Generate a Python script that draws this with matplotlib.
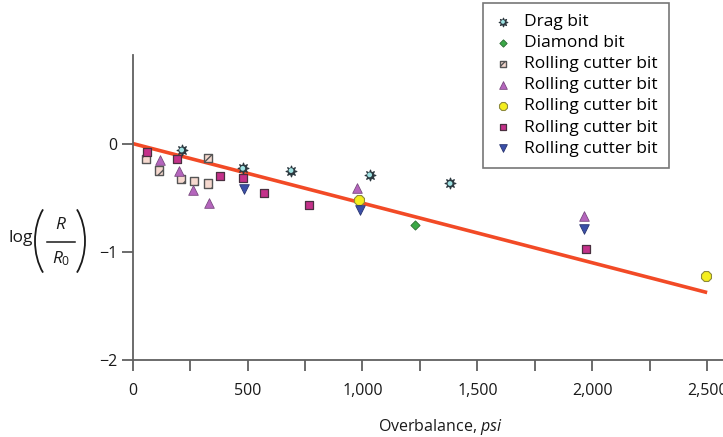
import matplotlib
matplotlib.use("Agg")
import matplotlib.pyplot as plt
from matplotlib.lines import Line2D
from matplotlib.patches import Arc
from matplotlib.transforms import IdentityTransform
from matplotlib.legend_handler import HandlerTuple
from matplotlib.ticker import FixedLocator, FuncFormatter

plt.rcParams['font.family'] = ['Open Sans', 'DejaVu Sans']
plt.rcParams['mathtext.fontset'] = 'custom'
plt.rcParams['mathtext.rm'] = 'Open Sans'
plt.rcParams['mathtext.it'] = 'Open Sans:italic'
plt.rcParams['hatch.color'] = '#e0583c'
plt.rcParams['hatch.linewidth'] = 1.0

# ---- data ----
drag_x = [213, 479, 689, 1031, 1381]
drag_y = [-0.06, -0.23, -0.25, -0.29, -0.37]

diamond_x = [1230]
diamond_y = [-0.75]

rc1_x = [59, 116, 210, 267, 329, 329]
rc1_y = [-0.145, -0.25, -0.33, -0.35, -0.13, -0.37]

rc2_x = [119, 203, 261, 333, 977, 1965]
rc2_y = [-0.155, -0.25, -0.43, -0.55, -0.41, -0.67]

rc3_x = [983, 2496]
rc3_y = [-0.52, -1.23]

rc4_x = [64, 191, 380, 479, 573, 769, 1971]
rc4_y = [-0.08, -0.145, -0.30, -0.315, -0.46, -0.565, -0.98]

rc5_x = [484, 990, 1965]
rc5_y = [-0.42, -0.62, -0.79]

fit_x = [0, 2500]
fit_y = [0.0, -1.38]

legend_labels = ["Drag bit", "Diamond bit", "Rolling cutter bit", "Rolling cutter bit",
                 "Rolling cutter bit", "Rolling cutter bit", "Rolling cutter bit"]

xtick_major = [0, 500, 1000, 1500, 2000, 2500]
xtick_all = [0, 250, 500, 750, 1000, 1250, 1500, 1750, 2000, 2250, 2500]
ytick_vals = [0, -1, -2]

W, H = 723, 437


def fx(px):
    return px / W


def fy(py):
    return 1 - py / H


# ---- figure ----
fig = plt.figure(figsize=(7.23, 4.37), dpi=100)
ax = fig.add_axes([fx(132.7), fy(359.5), (W - 132.7) / W, (359.5 - 55) / H])

ax.plot(fit_x, fit_y, color='#f24a26', lw=2.6, zorder=2, solid_capstyle='butt')

h_drag_o = ax.scatter(drag_x, drag_y, marker=(8, 1, 0), s=62, c='#2c3940', edgecolors='#2c3940',
                      linewidths=0.8, zorder=4)
h_drag_i = ax.scatter(drag_x, drag_y, marker='o', s=12, c='#9fe3e3', edgecolors='none', zorder=5)
h_dia = ax.scatter(diamond_x, diamond_y, marker='D', s=22, c='#3aa846', edgecolors='#2d6b33',
                   linewidths=0.6, zorder=4)
h1 = ax.scatter(rc1_x, rc1_y, marker='s', s=34, c='#f6d9cf', edgecolors='#555555',
                linewidths=1.0, hatch='//', zorder=4)
h2 = ax.scatter(rc2_x, rc2_y, marker='^', s=48, c='#b565bd', edgecolors='#7a4a80',
                linewidths=0.6, zorder=4)
h3 = ax.scatter(rc3_x, rc3_y, marker='8', s=60, c='#f4ee1e', edgecolors='#8d8a3a',
                linewidths=0.8, zorder=4)
h4 = ax.scatter(rc4_x, rc4_y, marker='s', s=32, c='#c4318a', edgecolors='#4a3040',
                linewidths=0.9, zorder=4)
h5 = ax.scatter(rc5_x, rc5_y, marker='v', s=48, c='#3a4fa8', edgecolors='#2a3570',
                linewidths=0.6, zorder=4)

ax.set_xlim(0, 2569)
ax.set_ylim(-2, 0.82)

for s in ['top', 'right']:
    ax.spines[s].set_visible(False)
for s in ['left', 'bottom']:
    ax.spines[s].set_color('#606060')
    ax.spines[s].set_linewidth(1.3)

ax.xaxis.set_major_locator(FixedLocator(xtick_all))
ax.xaxis.set_major_formatter(FuncFormatter(
    lambda v, p: (f"{int(v):,}" if int(v) in xtick_major else "")))
ax.set_yticks(ytick_vals)
ax.set_yticklabels(["0", "\u22121", "\u22122"])
ax.tick_params(axis='both', direction='out', length=8, width=1.3, color='#606060',
               labelsize=11.5, labelcolor='#1a1a1a')
ax.tick_params(axis='x', pad=9)
ax.tick_params(axis='y', pad=3)

ax.set_xlabel("Overbalance, $\\it{psi}$", fontsize=11.5, color='#1a1a1a')
ax.xaxis.set_label_coords((440 - 132.7) / (W - 132.7), -0.19)

# y-axis label: log( R / R0 ) with tall thin parentheses
tc = '#1a1a1a'
fig.text(fx(8), fy(238), "log", fontsize=12.5, ha='left', va='center', color=tc)
fig.add_artist(Arc((66, H - 241), 62, 94, theta1=126, theta2=234,
                   transform=IdentityTransform(), color=tc, lw=1.3))
fig.add_artist(Arc((54, H - 241), 62, 94, theta1=-54, theta2=54,
                   transform=IdentityTransform(), color=tc, lw=1.3))
fig.text(fx(61), fy(225), "$\\it{R}$", fontsize=12.5, ha='center', va='center', color=tc)
fig.text(fx(61), fy(259), "$\\it{R_0}$", fontsize=12.5, ha='center', va='center', color=tc)
fig.add_artist(Line2D([fx(47), fx(75)], [fy(242), fy(242)], color=tc, lw=1.1,
                      transform=fig.transFigure))

leg = ax.legend([(h_drag_o, h_drag_i), h_dia, h1, h2, h3, h4, h5], legend_labels,
                handler_map={tuple: HandlerTuple(ndivide=1, pad=0)},
                loc='upper left', bbox_to_anchor=(fx(483), fy(3)),
                bbox_transform=fig.transFigure, fontsize=12.5, frameon=True,
                fancybox=False, edgecolor='#777777', framealpha=1,
                handlelength=1.0, handletextpad=0.7, labelspacing=0.28,
                borderpad=0.65, borderaxespad=0, markerscale=0.8)
leg.get_frame().set_linewidth(1.2)

fig.savefig("out.png", dpi=100)
